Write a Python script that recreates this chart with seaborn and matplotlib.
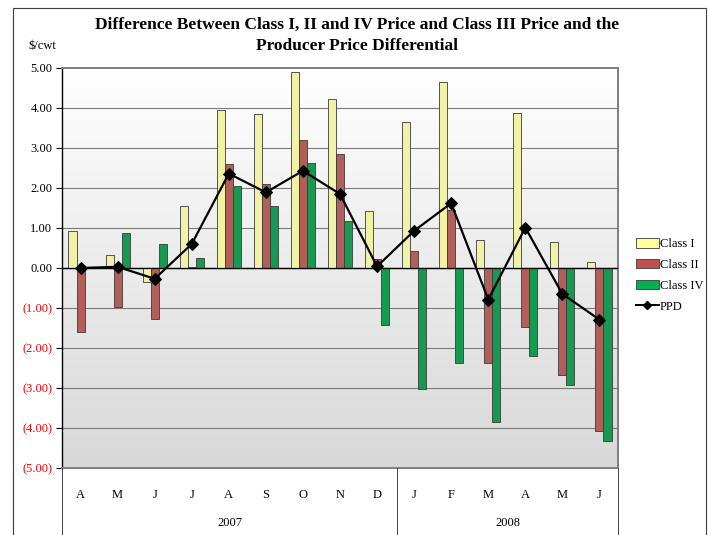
""" Class price differences vs Class III and the producer price differential """
import numpy as np
import pandas as pd
import matplotlib

matplotlib.use("Agg")
import matplotlib.pyplot as plt
from matplotlib.patches import Patch, Rectangle
from matplotlib.lines import Line2D
import seaborn as sns

months = ["A", "M", "J", "J", "A", "S", "O", "N", "D", "J", "F", "M", "A", "M", "J"]
years = ["2007"] * 9 + ["2008"] * 6
class_1 = [0.92, 0.33, -0.34, 1.54, 3.95, 3.85, 4.89, 4.23, 1.43, 3.66, 4.65, 0.70, 3.87, 0.64, 0.14]
class_2 = [-1.60, -0.98, -1.28, 0.03, 2.60, 2.10, 3.20, 2.86, 0.23, 0.43, 1.44, -2.38, -1.48, -2.68, -4.07]
class_4 = [0.00, 0.88, 0.60, 0.25, 2.05, 1.54, 2.63, 1.18, -1.43, -3.03, -2.38, -3.84, -2.20, -2.93, -4.33]
ppd = [0.00, 0.03, -0.27, 0.60, 2.36, 1.89, 2.43, 1.85, 0.04, 0.93, 1.62, -0.79, 1.01, -0.65, -1.29]

series_names = ["Class I", "Class II", "Class IV"]
colors = {"Class I": "#FFFF99", "Class II": "#C0504D", "Class IV": "#00B050"}

keys = [f"{m}{y}_{i}" for i, (m, y) in enumerate(zip(months, years))]
df = pd.DataFrame({
    "key": keys * 3,
    "series": np.repeat(series_names, len(keys)),
    "value": class_1 + class_2 + class_4,
})

W, H = 709, 535
plt.rcParams["font.family"] = ["Liberation Serif", "DejaVu Serif"]
fig = plt.figure(figsize=(W / 100, H / 100), dpi=100)
left, right, top, bottom = 62, 618, 68, 468
ax = fig.add_axes([left / W, 1 - bottom / H, (right - left) / W, (bottom - top) / H])

# outer chart border
fig.patches.append(Rectangle((12.5 / W, -0.05), (706 - 12.5) / W, 1.05 - 7.5 / H,
                             transform=fig.transFigure, fill=False,
                             edgecolor="#404040", linewidth=0.8))

# gradient background of the plot area (white at top, grey at bottom)
grad = np.linspace(0, 1, 256).reshape(-1, 1)
ax.imshow(grad, cmap=matplotlib.colors.LinearSegmentedColormap.from_list("g", ["#FFFFFF", "#D8D8D8"]),
          extent=[-0.5, 14.5, -5, 5], origin="upper", aspect="auto", zorder=0)

for yv in range(-4, 5):
    ax.axhline(yv, color="#000000" if yv == 0 else "#7A7A7A", linewidth=0.9 if yv == 0 else 0.8, zorder=1)

sns.barplot(data=df, x="key", y="value", hue="series", order=keys, hue_order=series_names,
            palette=colors, width=0.65, gap=0, edgecolor="#3A3A3A", linewidth=0.6,
            legend=False, ax=ax, zorder=2)
ax.axhline(0, color="black", linewidth=0.9, zorder=3)
sns.lineplot(x=np.arange(len(ppd)), y=ppd, color="black", marker="D", markersize=6,
             markeredgecolor="black", linewidth=1.6, ax=ax, zorder=4)

ax.set_xlim(-0.5, 14.5)
ax.set_ylim(-5, 5)
ax.set_xlabel("")
ax.set_ylabel("")

yticks = list(range(-5, 6))
ax.set_yticks(yticks)
ax.set_yticklabels([f"{v:.2f}" if v >= 0 else f"({-v:.2f})" for v in yticks], fontsize=9)
for lab, v in zip(ax.get_yticklabels(), yticks):
    lab.set_color("red" if v < 0 else "black")
ax.tick_params(axis="y", length=4, width=0.8, pad=3)

ax.set_xticks(np.arange(len(months)))
ax.set_xticklabels(months, fontsize=9)
ax.tick_params(axis="x", length=0, pad=15)

for s in ["top", "bottom", "right"]:
    ax.spines[s].set_color("#7F7F7F")
    ax.spines[s].set_linewidth(1.4)
ax.spines["left"].set_color("black")
ax.spines["left"].set_linewidth(1.0)

# year row and separators below the axis
for x in [62, 397, 618]:
    fig.add_artist(Line2D([x / W, x / W], [0, 1 - bottom / H], color="#404040", linewidth=0.7))
fig.text((62 + 397) / 2 / W, 1 - 523 / H, "2007", ha="center", va="center", fontsize=9)
fig.text((397 + 618) / 2 / W, 1 - 523 / H, "2008", ha="center", va="center", fontsize=9)

fig.text(357 / W, 1 - 25 / H, "Difference Between Class I, II and IV Price and Class III Price and the",
         ha="center", va="center", fontsize=12.5, fontweight="bold")
fig.text(357 / W, 1 - 46 / H, "Producer Price Differential",
         ha="center", va="center", fontsize=12.5, fontweight="bold")
fig.text(42 / W, 1 - 46 / H, "$/cwt", ha="center", va="center", fontsize=9)

handles = [Patch(facecolor=colors[n], edgecolor="#3A3A3A", linewidth=0.6, label=n) for n in series_names]
handles.append(Line2D([], [], color="black", marker="D", markersize=4, linewidth=1.4, label="PPD"))
fig.legend(handles=handles, loc="upper left", bbox_to_anchor=(631 / W, 1 - 233 / H),
           frameon=False, fontsize=9, handlelength=1.8, handleheight=0.8,
           handletextpad=0.1, labelspacing=0.7, borderaxespad=0)

fig.savefig("out.png", dpi=100)
